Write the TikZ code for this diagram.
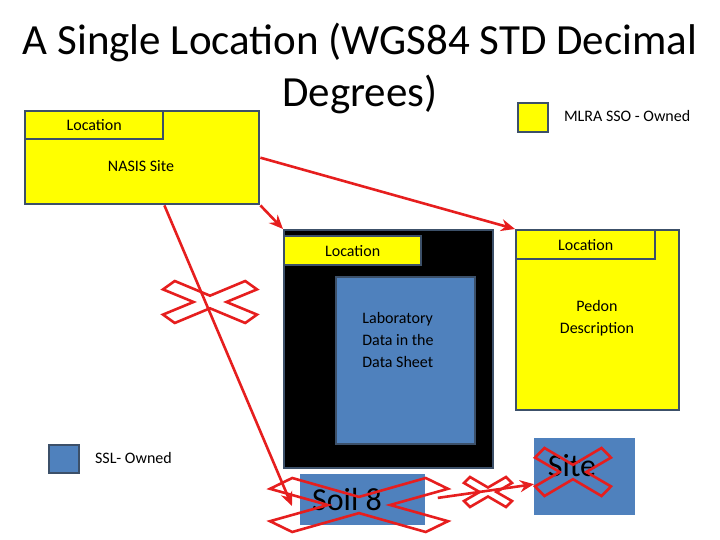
\documentclass[tikz,border=0pt]{standalone}
\usepackage{fontspec}
\setmainfont{Carlito}
\usetikzlibrary{arrows.meta}
\definecolor{sso}{RGB}{255,255,0}
\definecolor{ssl}{RGB}{79,129,189}
\definecolor{rim}{RGB}{60,80,105}
\definecolor{xred}{RGB}{230,30,30}
\tikzset{
  box/.style={draw=rim,line width=1.2pt,inner sep=0pt,anchor=north west},
  tab/.style={box,fill=sso,font=\fontsize{8}{9}\selectfont},
  link/.style={draw=xred,line width=1.3pt,-{Stealth[length=7pt,width=6pt]}},
  crossmark/.pic={\draw[xred,line width=1.3pt]
    (0,0.3) -- (0.75,1) -- (1,0.6) -- (0.35,0) -- (1,-0.6) -- (0.75,-1) --
    (0,-0.3) -- (-0.75,-1) -- (-1,-0.6) -- (-0.35,0) -- (-1,0.6) -- (-0.75,1) -- cycle;}
}
\begin{document}
\begin{tikzpicture}[x=0.5pt,y=-0.5pt]
\useasboundingbox (0,0) rectangle (720,540);
% title
\node[font=\fontsize{21.5}{26}\selectfont,align=center] (title) at (360,68)
  {A Single Location (WGS84 STD Decimal\\Degrees)};
% legend
\node[box,fill=sso,minimum width=15pt,minimum height=14.5pt] (ssokey) at (517,102) {};
\node[anchor=west,font=\fontsize{8}{9}\selectfont] (ssotxt) at (557,116) {MLRA SSO - Owned};
\node[box,fill=ssl,minimum width=15pt,minimum height=14pt] (sslkey) at (48,444) {};
\node[anchor=west,font=\fontsize{8}{9}\selectfont] (ssltxt) at (88,458) {SSL- Owned};
% NASIS site
\node[box,fill=sso,minimum width=117pt,minimum height=46.5pt] (nasis) at (24,110) {};
\node[tab,minimum width=69pt,minimum height=14pt] (nasisloc) at (24,110) {Location};
\node[font=\fontsize{8}{9}\selectfont] (nasistxt) at (141,166) {NASIS Site};
% lab data
\node[box,fill=black,minimum width=104.5pt,minimum height=119pt] (lab) at (283,229) {};
\node[tab,minimum width=68.5pt,minimum height=14.5pt] (labloc) at (283,235) {Location};
\node[box,fill=ssl,minimum width=69.5pt,minimum height=83.5pt] (labdata) at (335,276) {};
\node[anchor=north west,align=left,font=\fontsize{8}{11}\selectfont,inner sep=0pt] (labtxt) at (362,312)
  {Laboratory\\Data in the\\Data Sheet};
% pedon
\node[box,fill=sso,minimum width=81.5pt,minimum height=90pt] (pedon) at (515,229) {};
\node[tab,minimum width=69.5pt,minimum height=14.5pt] (pedonloc) at (515,229) {Location};
\node[align=center,font=\fontsize{8}{11}\selectfont] (pedontxt) at (597,318) {Pedon\\Description};
% old names
\node[fill=ssl,inner sep=0pt,anchor=north west,minimum width=62.5pt,minimum height=25.5pt] (soil) at (300,474) {};
\node[font=\fontsize{16}{16}\selectfont] (soiltxt) at (347,500) {Soil 8};
\node[fill=ssl,inner sep=0pt,anchor=north west,minimum width=50.5pt,minimum height=38.5pt] (site) at (534,438) {};
\node[font=\fontsize{16}{16}\selectfont] (sitetxt) at (572,466) {Site};
% connectors
\coordinate (soilend) at (292,506);
\draw[link] (nasis.south east) -- (lab.north west);
\draw[link] (nasis.east) -- (pedon.north west);
\draw[link] (nasis.south east -| nasisloc.east) -- (soilend);
\draw[link] (soil.east) ++(6pt,1pt) coordinate (soilout) -- (site.west |- sitetxt.south);
% crossed out
\pic[xscale=47,yscale=21] at (210,302) {crossmark};
\pic[xscale=89,yscale=27] at (359,505) {crossmark};
\pic[xscale=24,yscale=15] at (488,492) {crossmark};
\pic[xscale=38,yscale=24] at (573,472) {crossmark};
\end{tikzpicture}
\end{document}
